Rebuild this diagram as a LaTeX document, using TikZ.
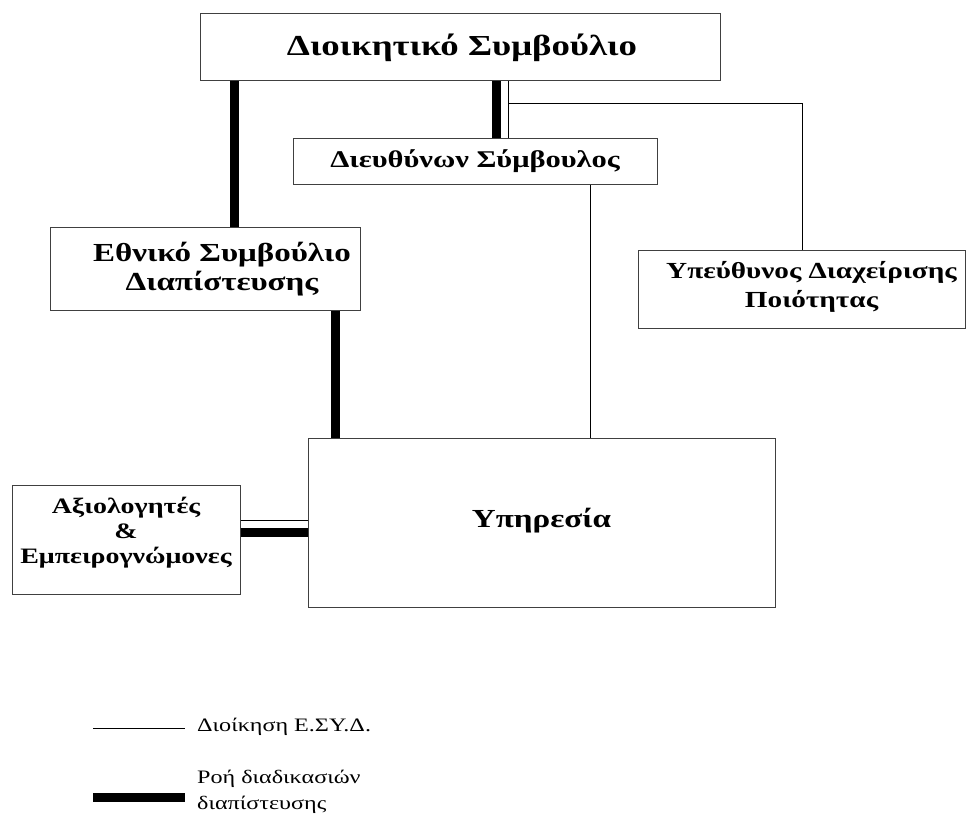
\documentclass[tikz,border=0pt]{standalone}
\usepackage{fontspec}
\setmainfont[FakeStretch=1.27]{Liberation Serif}
\newcommand{\fs}[2]{\fontsize{#1}{#2}\selectfont}
\begin{document}
\begin{tikzpicture}[x=1pt,y=-1pt,
  box/.style={draw=black!75,line width=1pt,fill=white,inner sep=0pt},
  title/.style={font=\bfseries,align=center,inner sep=0pt},
  admin/.style={line width=0.9pt,black},
  flow/.style={line width=9pt,black},
  lbl/.style={font=\fs{19}{26},anchor=west,align=left,inner sep=0pt}]
\useasboundingbox (0,0) rectangle (971,817);
\fill[white] (0,0) rectangle (971,817);

% boxes
\node[box,minimum width=520pt,minimum height=67pt] (board) at (460,47) {};
\node[box,minimum width=364pt,minimum height=46pt] (ceo) at (475,161) {};
\node[box,minimum width=310pt,minimum height=83pt] (nac) at (205,268.5) {};
\node[box,minimum width=327pt,minimum height=78pt] (qm) at (801.5,289) {};
\node[box,minimum width=467pt,minimum height=169pt] (svc) at (541.5,522.5) {};
\node[box,minimum width=228pt,minimum height=109pt] (exp) at (126,539.5) {};

% box titles
\node[title,font=\bfseries\fs{29}{32}] (boardtext) at ([xshift=2pt,yshift=-1pt]board.center) {Διοικητικό Συμβούλιο};
\node[title,font=\bfseries\fs{24}{28}] (ceotext) at (ceo.center) {Διευθύνων Σύμβουλος};
\node[title,font=\bfseries\fs{26}{29}] (nactext) at ([xshift=17pt,yshift=-1pt]nac.center) {Εθνικό Συμβούλιο\\Διαπίστευσης};
\node[title,font=\bfseries\fs{23}{29}] (qmtext) at ([xshift=10pt,yshift=2pt]qm.center) {Υπεύθυνος Διαχείρισης\\Ποιότητας};
\node[title,font=\bfseries\fs{26}{30}] (svctext) at ([yshift=2pt]svc.center) {Υπηρεσία};
\node[title,font=\bfseries\fs{22}{25}] (exptext) at ([yshift=7pt]exp.center) {Αξιολογητές\\\&\\Εμπειρογνώμονες};

% administration lines
\draw[admin] (board.south -| 508,0) -- (ceo.north -| 508,0);
\draw[admin] (508,103) -| (qm.north -| 802,0);
\draw[admin] (ceo.south -| 590,0) -- (svc.north -| 590,0);
\draw[admin] (exp.east |- 0,520) -- (svc.west |- 0,520);

% accreditation flow lines
\draw[flow] (board.south -| 234,0) -- (nac.north -| 234,0);
\draw[flow] (board.south -| 496,0) -- (ceo.north -| 496,0);
\draw[flow] (nac.south -| 335,0) -- (svc.north -| 335,0);
\draw[flow] (exp.east |- 0,532) -- (svc.west |- 0,532);

% legend
\coordinate (la) at (93,728);
\coordinate (lb) at (185,728);
\coordinate (lc) at (93,797);
\coordinate (ld) at (185,797);
\draw[admin] (la) -- (lb);
\draw[flow] (lc) -- (ld);
\node[lbl] (lt1) at (197,727) {Διοίκηση Ε.ΣΥ.Δ.};
\node[lbl] (lt2) at (197,792) {Ροή διαδικασιών\\διαπίστευσης};
\end{tikzpicture}
\end{document}
